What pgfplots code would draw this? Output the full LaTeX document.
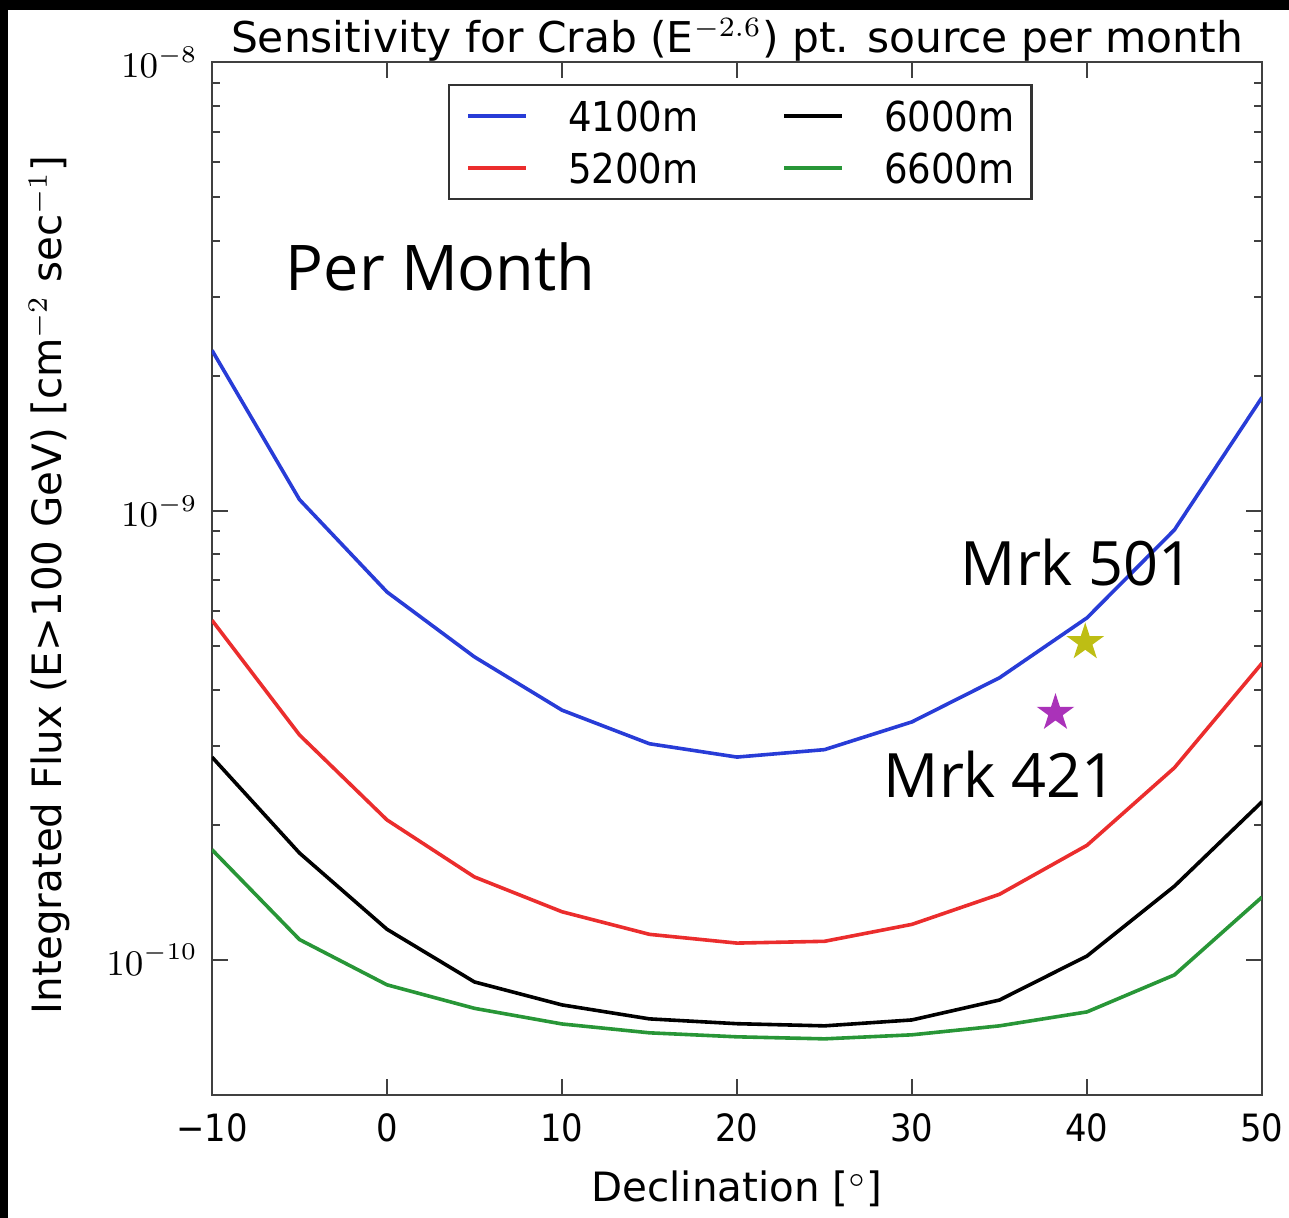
\documentclass[border=0pt]{standalone}
\usepackage{fontspec}
\setmainfont{DejaVu Sans Condensed}
\newfontfamily\regfont{DejaVu Sans}
\newfontfamily\labelfont{Open Sans}
\usepackage{pgfplots}
\pgfplotsset{compat=1.18}

\definecolor{cblue}{RGB}{40,60,215}
\definecolor{cred}{RGB}{235,45,45}
\definecolor{cgreen}{RGB}{40,150,55}
\definecolor{cyellow}{RGB}{190,190,20}
\definecolor{cmagenta}{RGB}{170,50,185}

% filled five-pointed star
\pgfdeclareplotmark{fstar}{%
  \pgfpathmoveto{\pgfpointpolar{90}{\pgfplotmarksize}}%
  \pgfpathlineto{\pgfpointpolar{126}{0.382\pgfplotmarksize}}%
  \pgfpathlineto{\pgfpointpolar{162}{\pgfplotmarksize}}%
  \pgfpathlineto{\pgfpointpolar{198}{0.382\pgfplotmarksize}}%
  \pgfpathlineto{\pgfpointpolar{234}{\pgfplotmarksize}}%
  \pgfpathlineto{\pgfpointpolar{270}{0.382\pgfplotmarksize}}%
  \pgfpathlineto{\pgfpointpolar{306}{\pgfplotmarksize}}%
  \pgfpathlineto{\pgfpointpolar{342}{0.382\pgfplotmarksize}}%
  \pgfpathlineto{\pgfpointpolar{18}{\pgfplotmarksize}}%
  \pgfpathlineto{\pgfpointpolar{54}{0.382\pgfplotmarksize}}%
  \pgfpathclose
  \pgfusepathqfillstroke}

\begin{document}
\begin{tikzpicture}
\useasboundingbox (-53pt,-30.75pt) rectangle (269.25pt,273.75pt);
\begin{axis}[
  at={(0,0)}, anchor=south west,
  scale only axis,
  width=262.5pt, height=258.25pt,
  ymode=log,
  xmin=-10, xmax=50,
  ymin=5.0e-11, ymax=1e-8,
  xtick={-10,0,10,20,30,40,50},
  xticklabels={−10,0,10,20,30,40,50},
  ytick={1e-10,1e-9,1e-8},
  axis line style={black!75, line width=0.65pt},
  tick style={black!75, line width=0.5pt},
  major tick length=4pt, minor tick length=2pt,
  xticklabel style={font=\fontsize{9.4}{11}\selectfont, yshift=-1pt},
  yticklabel style={font=\fontsize{9}{11}\selectfont},
  every axis title shift=0pt,
  title={Sensitivity for Crab (E$^{-2.6}$) pt. source per month},
  title style={font=\regfont\fontsize{10.6}{12}\selectfont, at={(0.5,1)}, anchor=base, inner sep=0pt, yshift=2.4pt},
  xlabel={Declination [$^\circ$]},
  xlabel style={font=\regfont\fontsize{10.1}{12}\selectfont, yshift=-0.5pt},
  ylabel={Integrated Flux (E>100 GeV) [cm$^{-2}$ sec$^{-1}$]},
  ylabel style={font=\regfont\fontsize{10.1}{12}\selectfont, at={(axis description cs:-0.155,0.494)}, anchor=center},
  legend columns=2,
  legend cell align=left,
  legend image code/.code={\draw[#1] (0pt,0pt) -- (14.5pt,0pt);},
  legend style={
    at={(0.2248,0.9787)}, anchor=north west,
    draw=black!80, line width=0.6pt,
    font=\fontsize{10.3}{12}\selectfont,
    nodes={inner sep=0pt, text height=7.6pt, text depth=0pt},
    inner xsep=4.3pt, inner ysep=3.95pt,
    row sep=5.4pt,
    /tikz/every odd column/.style={column sep=10pt},
    /tikz/every even column/.style={column sep=21pt},
  },
  every axis plot/.append style={line width=0.9pt},
]
% sensitivity curves, one per detector altitude
\addplot[cblue] coordinates {
  (-10,2.28e-9) (-5,1.06e-9) (0,6.6e-10) (5,4.73e-10) (10,3.6e-10)
  (15,3.03e-10) (20,2.83e-10) (25,2.94e-10) (30,3.39e-10) (35,4.25e-10)
  (40,5.78e-10) (45,9.08e-10) (50,1.79e-9)};
\addlegendentry{4100m}
\addplot[black] coordinates {
  (-10,2.83e-10) (-5,1.73e-10) (0,1.17e-10) (5,8.93e-11) (10,7.94e-11)
  (15,7.39e-11) (20,7.21e-11) (25,7.13e-11) (30,7.35e-11) (35,8.14e-11)
  (40,1.02e-10) (45,1.46e-10) (50,2.25e-10)};
\addlegendentry{6000m}
\addplot[cred] coordinates {
  (-10,5.71e-10) (-5,3.17e-10) (0,2.05e-10) (5,1.53e-10) (10,1.28e-10)
  (15,1.14e-10) (20,1.09e-10) (25,1.10e-10) (30,1.20e-10) (35,1.40e-10)
  (40,1.80e-10) (45,2.68e-10) (50,4.58e-10)};
\addlegendentry{5200m}
\addplot[cgreen] coordinates {
  (-10,1.76e-10) (-5,1.11e-10) (0,8.8e-11) (5,7.8e-11) (10,7.2e-11)
  (15,6.88e-11) (20,6.74e-11) (25,6.67e-11) (30,6.81e-11) (35,7.13e-11)
  (40,7.66e-11) (45,9.26e-11) (50,1.38e-10)};
\addlegendentry{6600m}
% blazar fluxes
\addplot[only marks, mark=fstar, mark size=4.3pt, forget plot,
  mark options={fill=cyellow, draw=cyellow, line width=0.4pt}]
  coordinates {(39.9,5.1e-10)};
\addplot[only marks, mark=fstar, mark size=4.3pt, forget plot,
  mark options={fill=cmagenta, draw=cmagenta, line width=0.4pt}]
  coordinates {(38.2,3.55e-10)};

\node[anchor=base west, inner sep=0pt, font=\labelfont\fontsize{15.75}{18}\selectfont]
  at (axis cs:-5.83,3.1e-9) {Per Month};
\node[anchor=base west, inner sep=0pt, font=\labelfont\fontsize{15.3}{18}\selectfont]
  at (axis cs:32.74,6.84e-10) {Mrk 501};
\node[anchor=base west, inner sep=0pt, font=\labelfont\fontsize{15.3}{18}\selectfont]
  at (axis cs:28.34,2.30e-10) {Mrk 421};
\end{axis}
% dark frame strips along the top and left edges
\fill[black] (-53pt,271.25pt) rectangle (269.25pt,273.75pt);
\fill[black] (-53pt,-30.75pt) rectangle (-51pt,273.75pt);
\end{tikzpicture}
\end{document}
